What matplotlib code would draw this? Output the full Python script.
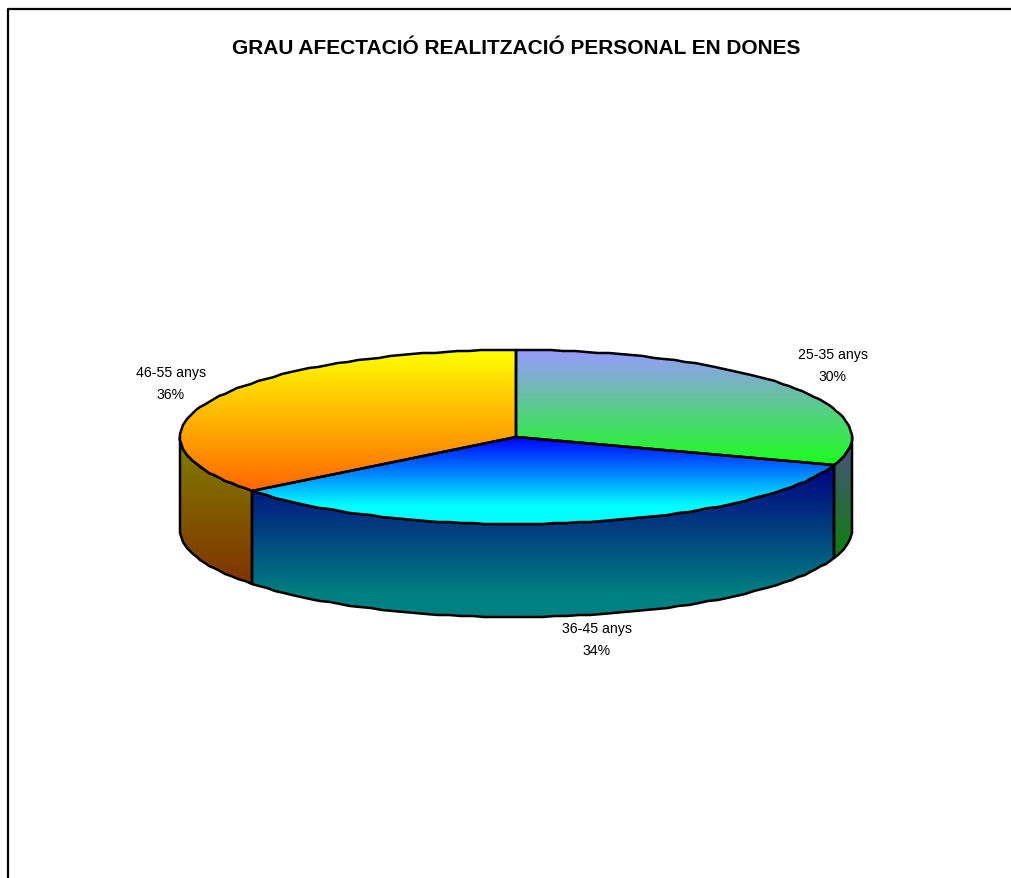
"""3D-look pie of age groups, drawn on a pixel-sized axes."""

import numpy as np
import matplotlib
matplotlib.use("Agg")
import matplotlib.pyplot as plt
from matplotlib.colors import LinearSegmentedColormap
from matplotlib.patches import Polygon

plt.rcParams["font.family"] = ["Liberation Sans", "DejaVu Sans"]

TITLE = "GRAU AFECTACIÓ REALITZACIÓ PERSONAL EN DONES"
AGES = ["25-35 anys", "36-45 anys", "46-55 anys"]
SHARES = [30.2, 34.2, 35.6]
TOP_COLORS = [("#9999ff", "#1aff1a"), ("#0000ff", "#00ffff"), ("#ffff00", "#ff6600")]
SIDE_COLORS = [("#4d4d80", "#0d800d"), ("#000080", "#008080"), ("#808000", "#803300")]
# where each gradient is done, as a fraction of the shape's height
TOP_GRAD_END = [1.0, 0.8, 1.0]
SIDE_GRAD_END = [1.0, 0.85, 1.0]
LABEL_POS = [(833, 357), (597, 631), (171, 375)]

W, H = 1012, 879
CX, CY, RX, RY = 516, 438, 336, 87
DEPTH = 93
LINE = 1.8


def rim(a0, a1):
    # angles in degrees, clockwise from 12 o'clock; snapped to pixels like the old renderer
    t = np.radians(np.linspace(a0, a1, max(int(abs(a1 - a0) / 2), 2) + 1))
    return np.round(np.column_stack([CX + RX * np.sin(t), CY - RY * np.cos(t)]))


def gradient_poly(ax, pts, colors, grad_end, zorder):
    stops = [(0, colors[0]), (grad_end, colors[1])]
    if grad_end < 1:
        stops.append((1, colors[1]))
    cmap = LinearSegmentedColormap.from_list("g", stops)
    x0, x1 = pts[:, 0].min(), pts[:, 0].max()
    y0, y1 = pts[:, 1].min(), pts[:, 1].max()
    im = ax.imshow(np.linspace(0, 1, 256).reshape(-1, 1), cmap=cmap, aspect="auto",
                   extent=(x0, x1, y1, y0), zorder=zorder, interpolation="bilinear")
    patch = Polygon(pts, closed=True, fc="none", ec="black", lw=LINE, zorder=zorder + 1,
                    joinstyle="round")
    ax.add_patch(patch)
    im.set_clip_path(patch)


def side_poly(a0, a1):
    edge = rim(a0, a1)
    return np.vstack([edge, (edge + [0, DEPTH])[::-1]])


fig = plt.figure(figsize=(W / 100, H / 100), dpi=100)
ax = fig.add_axes([0, 0, 1, 1])
ax.set_xlim(0, W)
ax.set_ylim(H, 0)
ax.axis("off")

# outer chart frame, only left and top fall inside the image
ax.plot([8.5, 8.5, W], [H, 9.5, 9.5], color="black", lw=1.6, zorder=1)

edges = np.concatenate([[0], np.cumsum(SHARES)]) / sum(SHARES) * 360

for i in range(len(SHARES)):
    a0, a1 = edges[i], edges[i + 1]
    # only the front half of the rim shows a wall
    lo, hi = max(a0, 90), min(a1, 270)
    if hi > lo:
        gradient_poly(ax, side_poly(lo, hi), SIDE_COLORS[i], SIDE_GRAD_END[i], 2)

for i in range(len(SHARES)):
    pts = np.vstack([[CX, CY], rim(edges[i], edges[i + 1])])
    gradient_poly(ax, pts, TOP_COLORS[i], TOP_GRAD_END[i], 4)

for age, share, (x, y) in zip(AGES, SHARES, LABEL_POS):
    ax.text(x, y - 2, age, ha="center", va="center", fontsize=10.2, color="black")
    ax.text(x, y + 20, f"{share:.0f}%", ha="center", va="center", fontsize=10.2, color="black")

ax.text(516, 48, TITLE, ha="center", va="center", fontsize=15, fontweight="bold", color="black")

fig.savefig("out.png", dpi=100)
